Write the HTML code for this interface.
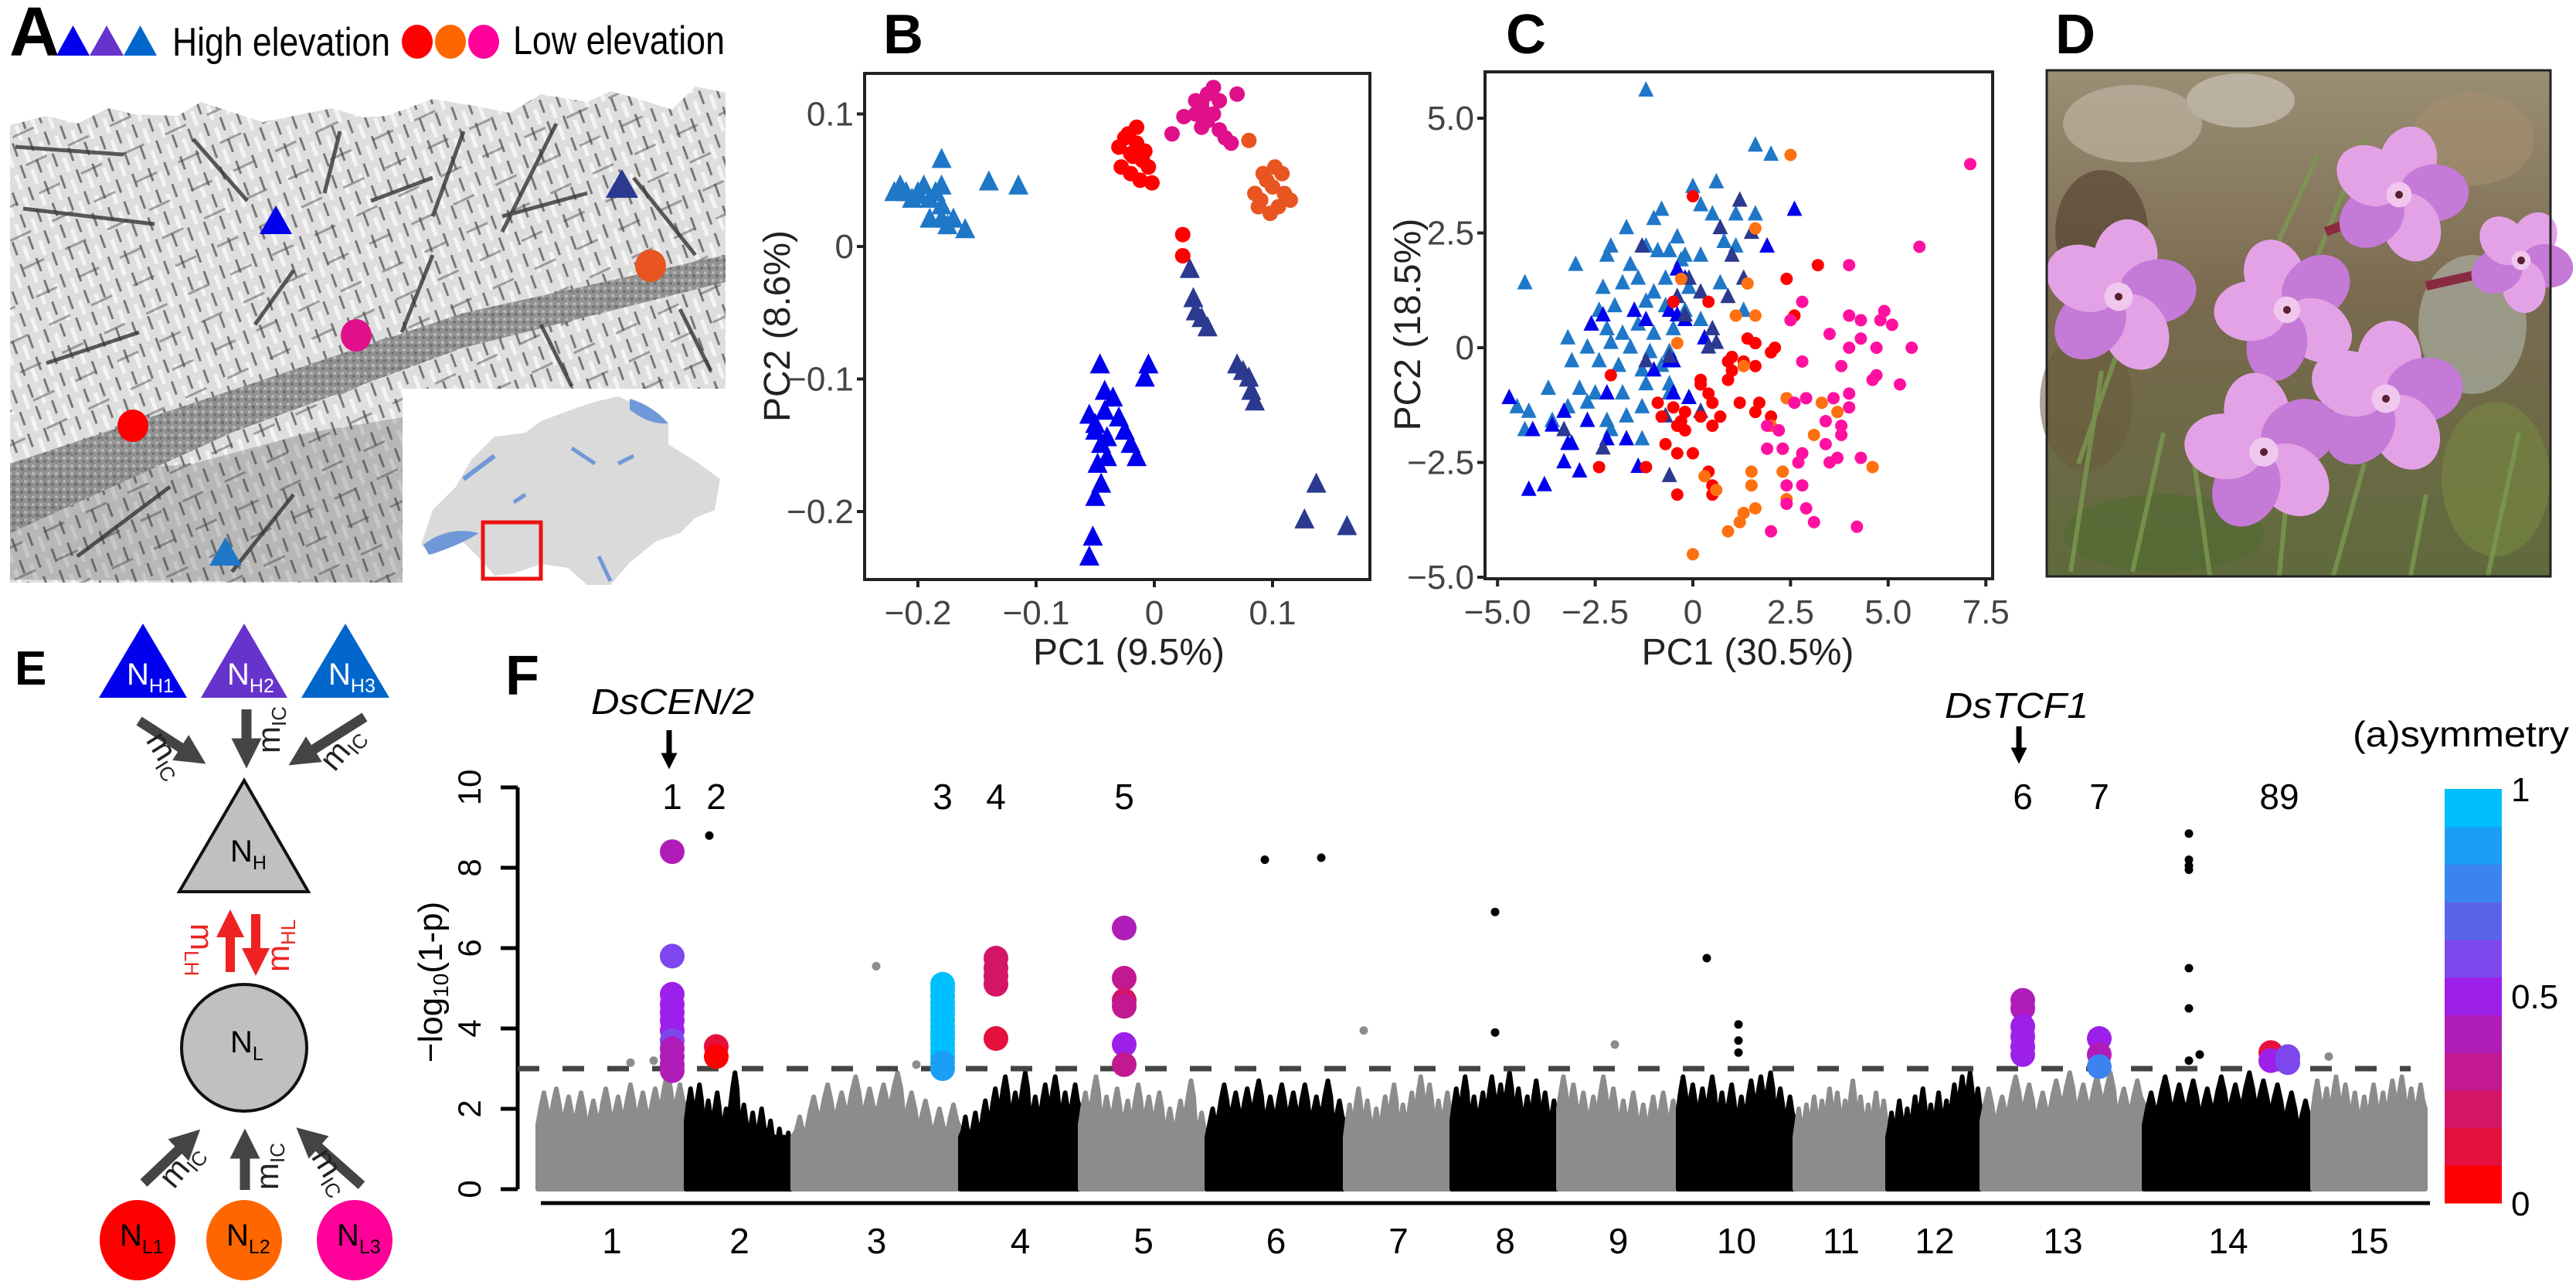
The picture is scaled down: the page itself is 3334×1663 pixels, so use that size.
<!DOCTYPE html>
<html><head><meta charset="utf-8"><style>
html,body{margin:0;padding:0;background:#fff}
svg{display:block}
text{font-family:"Liberation Sans Narrow","Liberation Sans",sans-serif}
</style></head><body>
<svg id="fig" width="3334" height="1663" viewBox="0 0 3334 1663" xmlns="http://www.w3.org/2000/svg">
<defs>
<pattern id="mt" width="30" height="22" patternUnits="userSpaceOnUse" patternTransform="rotate(70)">
<rect width="30" height="22" fill="#dedede"/><line x1="0" y1="4" x2="18" y2="4" stroke="#777" stroke-width="3"/><line x1="10" y1="14" x2="30" y2="14" stroke="#f4f4f4" stroke-width="5"/></pattern>
<pattern id="mt2" width="60" height="40" patternUnits="userSpaceOnUse" patternTransform="rotate(-25)">
<rect width="60" height="40" fill="none"/><line x1="0" y1="8" x2="30" y2="8" stroke="#444" stroke-width="3" opacity="0.45"/></pattern>
<pattern id="vl" width="10" height="10" patternUnits="userSpaceOnUse"><rect width="10" height="10" fill="#8a8a8a"/><circle cx="3" cy="3" r="2" fill="#b5b5b5"/><circle cx="8" cy="7" r="2" fill="#666"/></pattern>
<linearGradient id="photoBg" x1="0" y1="0" x2="0" y2="1"><stop offset="0" stop-color="#9a8e74"/><stop offset="0.45" stop-color="#7a6a50"/><stop offset="1" stop-color="#5f6a3c"/></linearGradient>
<marker id="ahG" markerWidth="3" markerHeight="3" refX="1.5" refY="1.5" orient="auto"><path d="M0,0 L3,1.5 L0,3 z" fill="#444"/></marker>
<marker id="ahR" markerWidth="3" markerHeight="3" refX="1.5" refY="1.5" orient="auto"><path d="M0,0 L3,1.5 L0,3 z" fill="#ee2222"/></marker>
<marker id="ahK" markerWidth="3" markerHeight="3" refX="1.5" refY="1.5" orient="auto"><path d="M0,0 L3,1.5 L0,3 z" fill="#000"/></marker>
</defs>

<!-- Panel A -->
<g>
<text x="12" y="72" font-size="90" font-weight="bold">A</text>
<g>
<polygon points="73,72 116,72 94.5,33" fill="#0000ee"/>
<polygon points="116,72 160,72 138,33" fill="#6633cc"/>
<polygon points="160,72 203,72 181.5,33" fill="#0066cc"/>
<text x="223" y="72" font-size="52" textLength="282" lengthAdjust="spacingAndGlyphs">High elevation</text>
</g>
<g>
<ellipse cx="540" cy="54" rx="20" ry="22" fill="#ff0000"/>
<ellipse cx="583" cy="54" rx="20" ry="22" fill="#ff6600"/>
<ellipse cx="626" cy="54" rx="20" ry="22" fill="#ff0099"/>
<text x="664" y="70" font-size="52" textLength="274" lengthAdjust="spacingAndGlyphs">Low elevation</text>
</g>
<g>
<polygon points="13,162 60,150 100,160 140,140 175,148 230,150 260,132 300,145 340,158 380,150 430,140 470,152 500,150 560,128 620,138 660,146 700,122 760,132 790,118 820,126 870,142 900,112 939,120 939,503 521,503 521,754 13,754" fill="url(#mt)"/>
<polygon points="13,162 60,150 100,160 140,140 175,148 230,150 260,132 300,145 340,158 380,150 430,140 470,152 500,150 560,128 620,138 660,146 700,122 760,132 790,118 820,126 870,142 900,112 939,120 939,503 521,503 521,754 13,754" fill="url(#mt2)"/>
<polygon points="13,620 13,750 521,754 521,540 400,560 250,600" fill="#444" opacity="0.25"/>
<polygon points="13,600 300,505 600,405 939,330 939,365 600,450 300,560 13,690" fill="url(#vl)" opacity="0.9"/>
<path d="M20,190 L160,200 M30,270 L200,290 M250,180 L320,260 M440,170 L420,250 M600,170 L560,280 M720,160 L650,300 M820,230 L900,330 M480,260 L560,230 M100,720 L220,630 M300,740 L380,640 M60,470 L180,430 M650,280 L760,250 M380,350 L330,420 M560,330 L520,430 M700,420 L740,500 M880,400 L920,480" stroke="#333" stroke-width="5" fill="none" opacity="0.8"/>
<polygon points="357,266 378,303 336,303" fill="#0000ee"/>
<polygon points="805,219 826,256 784,256" fill="#2b3990"/>
<polygon points="292,695 313,732 271,732" fill="#1f77c8"/>
<ellipse cx="842" cy="344" rx="20" ry="21" fill="#e85520"/>
<ellipse cx="461" cy="434" rx="20" ry="21" fill="#e0108a"/>
<ellipse cx="172" cy="551" rx="20" ry="21" fill="#ff0000"/>
</g>
<g>
<polygon points="545,705 560,660 590,630 610,595 640,565 680,560 700,545 740,530 770,520 800,513 835,528 865,548 865,575 905,600 932,620 925,660 900,670 880,690 850,700 815,728 790,757 760,757 735,735 700,730 665,742 640,745 620,722 598,700 560,718" fill="#dadada"/>
<path d="M548,705 Q580,680 620,690 Q590,708 555,718 z" fill="#6f98d8"/>
<path d="M815,516 Q845,525 865,548 Q840,550 815,530 z" fill="#6f98d8"/>
<path d="M600,620 L640,590" stroke="#6f98d8" stroke-width="6"/>
<path d="M740,580 L770,600 M800,600 L820,590 M775,720 L790,752 M665,650 L680,640" stroke="#6f98d8" stroke-width="5"/>
<rect x="625" y="676" width="75" height="73" fill="none" stroke="#ee1111" stroke-width="5"/>
</g>
</g>

<!-- Panel B -->
<g id="panelB">
<text x="1143" y="69" font-size="72" font-weight="bold">B</text>
<rect x="1119" y="95" width="654" height="655" fill="none" stroke="#222" stroke-width="4"/>
<text x="1461" y="860" font-size="48" text-anchor="middle" fill="#222">PC1 (9.5%)</text>
<text transform="translate(1022,422) rotate(-90)" font-size="48" text-anchor="middle" fill="#222">PC2 (8.6%)</text>
</g>

<!-- Panel C -->
<g id="panelC">
<text x="1949" y="69" font-size="72" font-weight="bold">C</text>
<rect x="1922" y="93" width="657" height="656" fill="none" stroke="#222" stroke-width="4"/>
<text x="2262" y="860" font-size="48" text-anchor="middle" fill="#222">PC1 (30.5%)</text>
<text transform="translate(1838,420) rotate(-90)" font-size="48" text-anchor="middle" fill="#222">PC2 (18.5%)</text>
</g>

<!-- Panel D -->
<g id="panelD">
<text x="2660" y="69" font-size="72" font-weight="bold">D</text>
<rect x="2649" y="91" width="652" height="655" fill="url(#photoBg)"/>
<g opacity="0.55">
<ellipse cx="2760" cy="160" rx="90" ry="50" fill="#c8c0b0"/>
<ellipse cx="2900" cy="130" rx="70" ry="35" fill="#d8d2c8"/>
<ellipse cx="3200" cy="180" rx="80" ry="60" fill="#a89070"/>
<ellipse cx="2720" cy="300" rx="60" ry="80" fill="#4a3828"/>
<ellipse cx="3200" cy="420" rx="70" ry="90" fill="#b8c0b8"/>
<ellipse cx="2700" cy="520" rx="60" ry="90" fill="#6a5a3a"/>
<ellipse cx="3230" cy="620" rx="70" ry="100" fill="#7a8a40"/>
<ellipse cx="2800" cy="690" rx="130" ry="50" fill="#4f6a30"/>
</g>
<path d="M2680,740 L2720,480 M2760,740 L2800,560 M2860,745 L2840,600 M2950,745 L2960,640 M3020,745 L3060,600 M3120,745 L3140,640 M3220,745 L3260,560 M2900,420 L3000,200 M2980,380 L3060,180 M2690,600 L2760,400" stroke="#7a9a50" stroke-width="6" opacity="0.8"/>
<path d="M3010,300 L3090,270 M3140,370 L3230,350" stroke="#8a2a40" stroke-width="12"/>
<g id="flowers"></g>
<rect x="2649" y="91" width="652" height="655" fill="none" stroke="#222" stroke-width="3"/>
</g>

<!-- Panel E -->
<g>
<text x="19" y="886" font-size="62" font-weight="bold">E</text>
<g><polygon points="128,903 242,903 185,807" fill="#0000ee"/><text x="164" y="886" font-size="40" fill="#fff">N<tspan font-size="25" dy="10">H1</tspan></text></g>
<g><polygon points="260,903 372,903 316,807" fill="#6633cc"/><text x="294" y="886" font-size="40" fill="#fff">N<tspan font-size="25" dy="10">H2</tspan></text></g>
<g><polygon points="390,903 504,903 447,807" fill="#0066cc"/><text x="425" y="886" font-size="40" fill="#fff">N<tspan font-size="25" dy="10">H3</tspan></text></g>
<g stroke="#444" stroke-width="13">
<line x1="180" y1="933" x2="250" y2="978" marker-end="url(#ahG)"/>
<line x1="319" y1="918" x2="319" y2="975" marker-end="url(#ahG)"/>
<line x1="472" y1="928" x2="390" y2="980" marker-end="url(#ahG)"/>
</g>
<text transform="translate(188,958) rotate(58)" font-size="42" fill="#222">m<tspan font-size="26" dy="8">IC</tspan></text>
<text transform="translate(362,975) rotate(-90)" font-size="42" fill="#222">m<tspan font-size="26" dy="8">IC</tspan></text>
<text transform="translate(433,1000) rotate(-50)" font-size="42" fill="#222">m<tspan font-size="26" dy="8">IC</tspan></text>
<g><polygon points="232,1154 399,1154 316,1010" fill="#c0c0c0" stroke="#111" stroke-width="4"/><text x="298" y="1115" font-size="40">N<tspan font-size="25" dy="10">H</tspan></text></g>
<g stroke="#ee2222" stroke-width="12">
<line x1="298" y1="1258" x2="298" y2="1195" marker-end="url(#ahR)"/>
<line x1="331" y1="1183" x2="331" y2="1245" marker-end="url(#ahR)"/>
</g>
<text transform="translate(247,1195) rotate(90)" font-size="42" fill="#ee2222">m<tspan font-size="26" dy="8">LH</tspan></text>
<text transform="translate(374,1258) rotate(-90)" font-size="42" fill="#ee2222">m<tspan font-size="26" dy="8">HL</tspan></text>
<g><ellipse cx="316" cy="1356" rx="81" ry="82" fill="#c0c0c0" stroke="#111" stroke-width="4"/><text x="298" y="1362" font-size="40">N<tspan font-size="25" dy="10">L</tspan></text></g>
<g stroke="#444" stroke-width="13">
<line x1="186" y1="1531" x2="245" y2="1475" marker-end="url(#ahG)"/>
<line x1="317" y1="1540" x2="317" y2="1480" marker-end="url(#ahG)"/>
<line x1="468" y1="1534" x2="398" y2="1472" marker-end="url(#ahG)"/>
</g>
<text transform="translate(225,1540) rotate(-50)" font-size="42" fill="#222">m<tspan font-size="26" dy="8">IC</tspan></text>
<text transform="translate(360,1540) rotate(-90)" font-size="42" fill="#222">m<tspan font-size="26" dy="8">IC</tspan></text>
<text transform="translate(402,1497) rotate(58)" font-size="42" fill="#222">m<tspan font-size="26" dy="8">IC</tspan></text>
<g><ellipse cx="178" cy="1605" rx="49" ry="52" fill="#ff0000"/><text x="155" y="1612" font-size="40">N<tspan font-size="25" dy="10">L1</tspan></text></g>
<g><ellipse cx="316" cy="1605" rx="49" ry="52" fill="#ff6600"/><text x="293" y="1612" font-size="40">N<tspan font-size="25" dy="10">L2</tspan></text></g>
<g><ellipse cx="459" cy="1605" rx="49" ry="52" fill="#ff0099"/><text x="436" y="1612" font-size="40">N<tspan font-size="25" dy="10">L3</tspan></text></g>
</g>

<!-- Panel F -->
<g id="panelF">
<text x="654" y="899" font-size="72" font-weight="bold">F</text>
<text x="765" y="924" font-size="46" font-style="italic" textLength="211" lengthAdjust="spacingAndGlyphs">DsCEN/2</text>
<line x1="866" y1="945" x2="866" y2="985" stroke="#000" stroke-width="7" marker-end="url(#ahK)"/>
<text x="2517" y="929" font-size="46" font-style="italic" textLength="186" lengthAdjust="spacingAndGlyphs">DsTCF1</text>
<line x1="2613" y1="940" x2="2613" y2="978" stroke="#000" stroke-width="7" marker-end="url(#ahK)"/>
<text transform="translate(572,1271) rotate(-90)" font-size="44" text-anchor="middle" font-family="Liberation Sans, sans-serif">−log<tspan font-size="28" dy="8">10</tspan><tspan dy="-8">(1-p)</tspan></text>
<line x1="670" y1="1019" x2="670" y2="1539" stroke="#000" stroke-width="5"/>
<line x1="700" y1="1557" x2="3145" y2="1557" stroke="#000" stroke-width="5"/>
<g id="manBulk"></g>
<line x1="670" y1="1383" x2="3120" y2="1383" stroke="#444" stroke-width="7" stroke-dasharray="28,30"/>
<g id="manPts"></g>
<g id="cbar"></g>
<text x="3185" y="966" font-size="46" text-anchor="middle" textLength="280" lengthAdjust="spacingAndGlyphs">(a)symmetry</text>
</g>
</svg>
<script>
// ---------- Panel B data ----------
const bSteelX=[-0.22,-0.215,-0.21,-0.205,-0.2,-0.195,-0.19,-0.185,-0.18,-0.18,-0.18,-0.18,-0.175,-0.17,-0.16,-0.14,-0.115,-0.19,-0.2];
const bSteelY=[0.04,0.045,0.04,0.035,0.04,0.045,0.035,0.04,0.045,0.065,0.03,0.02,0.015,0.02,0.012,0.048,0.045,0.02,0.038];
const bBlueX=[-0.046,-0.042,-0.055,-0.05,-0.05,-0.045,-0.04,-0.048,-0.035,-0.03,-0.025,-0.02,-0.015,-0.005,-0.008,-0.045,-0.05,-0.052,-0.055,-0.04,-0.042];
const bBlueY=[-0.09,-0.11,-0.128,-0.135,-0.14,-0.15,-0.16,-0.165,-0.115,-0.13,-0.14,-0.15,-0.16,-0.09,-0.1,-0.18,-0.19,-0.22,-0.235,-0.145,-0.125];
const bNavyX=[0.03,0.033,0.035,0.04,0.045,0.07,0.075,0.08,0.082,0.085,0.137,0.127,0.163];
const bNavyY=[-0.018,-0.04,-0.05,-0.055,-0.062,-0.09,-0.095,-0.1,-0.11,-0.118,-0.18,-0.207,-0.212];
const bRedX=[-0.03,-0.025,-0.02,-0.015,-0.01,-0.005,-0.02,-0.012,-0.028,-0.018,-0.008,-0.002,-0.022,-0.015,0.024,0.024];
const bRedY=[0.075,0.082,0.07,0.09,0.065,0.06,0.055,0.05,0.06,0.068,0.072,0.048,0.085,0.078,0.009,-0.007];
const bMagX=[0.015,0.025,0.035,0.04,0.045,0.05,0.055,0.045,0.04,0.035,0.055,0.06,0.065,0.07,0.05,0.04];
const bMagY=[0.085,0.098,0.11,0.105,0.115,0.1,0.11,0.095,0.09,0.1,0.088,0.082,0.078,0.115,0.12,0.108];
const bOrX=[0.08,0.085,0.09,0.095,0.1,0.105,0.11,0.088,0.098,0.108,0.115,0.092,0.102];
const bOrY=[0.08,0.04,0.035,0.05,0.045,0.03,0.04,0.03,0.025,0.055,0.035,0.055,0.06];
const bTicksX=[-0.2,-0.1,0,0.1];
const bTickLabelsX=['−0.2','−0.1','0','0.1'];
const bTicksY=[0.1,0,-0.1,-0.2];
const bTickLabelsY=['0.1','0','−0.1','−0.2'];
// ---------- Panel C data ----------
const cSteelX=[-1.2,1.6,2.0,0.0,0.6,-1.7,-1.0,-0.8,-0.4,0.2,0.5,1.1,1.6,-3.0,-2.2,-2.1,-1.2,-0.9,-0.6,-0.2,0.2,0.8,1.1,-4.3,-2.3,-1.8,-1.4,-0.7,-0.1,0.7,1.3,-2.4,-2.0,-1.5,-1.2,-0.7,-0.2,0.2,-2.6,-2.2,-1.8,-1.4,-1.0,-0.5,-3.2,-2.7,-2.1,-1.6,-1.1,-0.6,-3.1,-2.4,-1.9,-1.3,-0.8,-3.7,-2.5,-1.8,-1.2,-0.6,-4.5,-4.2,-3.6,-3.2,-2.7,-2.2,-1.7,-1.3,-4.3,-2.1,-1.3,-0.6,-1.6,-0.3,-2.9,-1.0];
const cSteelY=[5.6,4.4,4.2,3.5,3.6,2.6,2.8,3.0,2.4,3.1,2.9,2.9,2.9,1.8,2.0,2.2,2.2,2.1,2.1,2.0,2.0,2.3,2.2,1.4,1.3,1.4,1.5,1.5,1.3,1.4,0.8,0.8,0.9,0.8,1.0,0.9,0.8,0.6,0.5,0.4,0.3,0.5,0.3,0.4,0.2,0.0,0.1,0.0,-0.1,-0.1,-0.3,-0.3,-0.4,-0.5,-0.4,-0.9,-1.0,-1.0,-0.8,-0.8,-1.3,-1.4,-1.6,-1.3,-1.2,-1.6,-1.5,-1.3,-1.8,-1.8,-2.0,-1.0,1.8,1.9,-0.9,1.2];
const cBlueX=[2.6,1.9,-0.4,-0.2,-2.6,-2.3,-1.5,-1.2,-0.6,-0.4,-0.2,0.3,-1.0,-0.5,-0.5,-0.1,-2.2,-3.6,-3.3,-3.1,-2.7,-2.2,-1.7,-4.7,-3.2,-3.3,-3.8,-4.2,-2.9,-1.4,-4.1,-0.6];
const cBlueY=[3.0,2.2,1.7,1.5,0.5,0.7,0.8,0.6,0.8,0.7,0.6,0.2,-0.5,-0.3,-1.0,-1.1,-1.0,-1.7,-1.4,-2.1,-1.6,-2.0,-2.0,-1.1,-2.1,-2.5,-3.0,-3.1,-2.7,-2.6,-1.8,-0.3];
const cNavyX=[1.2,0.7,1.5,-1.3,1.0,-0.1,1.3,0.9,-0.4,0.2,-0.2,0.5,0.6,0.4,-1.2,-0.6,-0.7,-3.3,-2.3,-0.6,0.2];
const cNavyY=[3.2,2.6,2.5,2.2,2.0,1.5,1.5,1.1,1.1,1.2,0.7,0.4,0.1,0.0,-0.3,-0.2,-1.5,-1.8,-2.2,-2.8,-1.4];
const cRedX=[0.0,2.4,3.2,2.6,-0.5,0.4,1.4,1.6,2.1,2.0,1.0,0.9,1.3,1.6,1.0,0.9,0.2,0.2,0.4,-2.1,-0.9,-0.5,-0.2,0.5,1.2,1.7,1.6,2.0,-0.8,-0.3,0.2,0.7,-0.2,-0.4,-0.7,0.5,-0.4,0.0,-2.4,-1.2,0.4,0.5,0.5,-0.4];
const cRedY=[3.3,1.5,1.8,0.7,1.0,1.0,0.2,0.1,0.0,-0.1,-0.2,-0.3,-0.3,-0.4,-0.5,-0.7,-0.7,-0.8,-1.0,-0.6,-1.2,-1.3,-1.4,-1.2,-1.2,-1.2,-1.4,-1.5,-1.5,-1.6,-1.5,-1.5,-1.8,-1.7,-2.1,-1.7,-2.3,-2.3,-2.6,-2.6,-2.7,-3.0,-3.2,-3.2];
const cOrX=[2.5,1.6,1.4,-0.3,1.1,1.6,-0.4,1.3,2.4,2.0,2.3,4.6,3.3,3.7,3.1,0.3,0.6,1.5,1.5,1.6,2.4,1.3,1.2,0.9,0.0,2.3];
const cOrY=[4.2,2.6,1.4,1.5,0.7,0.7,0.1,-0.4,-1.1,-1.7,-2.2,-2.6,-1.2,-1.4,-1.9,-2.8,-3.1,-2.7,-3.0,-3.5,-3.3,-3.6,-3.8,-4.0,-4.5,-2.7];
const cMagX=[7.1,5.8,4.0,2.8,2.5,4.0,4.3,4.9,4.8,5.1,3.5,4.3,4.7,4.0,5.6,2.8,3.8,4.7,4.6,5.3,2.9,3.6,4.0,4.0,2.6,1.9,2.2,3.4,3.8,3.8,3.4,1.9,2.3,2.7,3.5,3.7,4.3,2.8,2.4,2.4,2.9,3.1,4.2,2.0,2.8];
const cMagY=[4.0,2.2,1.8,1.0,0.6,0.7,0.6,0.8,0.6,0.5,0.3,0.2,0.0,0.0,0.0,-0.3,-0.4,-0.6,-0.7,-0.8,-1.1,-1.1,-1.0,-1.3,-1.2,-1.7,-1.8,-1.6,-1.7,-1.9,-2.1,-2.2,-2.2,-2.5,-2.5,-2.4,-2.4,-3.0,-3.0,-3.4,-3.5,-3.8,-3.9,-4.0,-2.3];
const cTicksX=[-5,-2.5,0,2.5,5,7.5];
const cTickLabelsX=['−5.0','−2.5','0','2.5','5.0','7.5'];
const cTicksY=[5,2.5,0,-2.5,-5];
const cTickLabelsY=['5.0','2.5','0','−2.5','−5.0'];
// ---------- Panel F data ----------
const chromNames=['1','2','3','4','5','6','7','8','9','10','11','12','13','14','15'];
const chromLengths=[192,138,217,155,164,179,138,138,155,151,120,122,210,218,146];
const chromEnvelope=[
[2.4,2.5,2.3,2.4,2.2,2.5,2.3,2.6,2.4,2.5,2.9,2.6],
[2.5,2.6,2.2,2.4,2.0,2.9,2.1,1.9,2.0,1.7,1.5,1.4],
[1.8,2.3,2.6,2.4,2.8,2.5,2.6,2.9,2.4,2.2,2.0,2.1],
[1.8,1.9,2.2,2.5,2.8,2.4,2.9,2.3,2.6,2.8,2.4,2.6],
[2.4,2.8,2.3,2.5,2.2,2.6,2.3,2.4,2.0,2.2,2.7,1.9],
[2.0,2.6,2.4,2.5,2.7,2.3,2.6,2.4,2.6,2.3,2.7,2.2],
[2.1,2.5,2.2,2.0,2.3,2.6,2.1,2.4,2.8,2.6,2.2,2.4],
[2.5,2.8,2.3,2.4,2.8,2.6,2.9,2.5,2.3,2.7,2.4,2.2],
[2.8,2.6,2.4,2.3,2.8,2.5,2.2,2.4,2.1,2.3,2.4,2.2],
[2.8,2.6,2.5,2.8,2.4,2.6,2.3,2.7,2.8,2.9,2.5,2.3],
[2.0,2.1,2.3,2.2,2.5,2.4,2.2,2.7,2.3,2.1,2.4,2.2],
[1.9,2.2,2.0,2.3,2.5,2.1,2.4,2.2,2.6,2.8,2.9,2.5],
[2.5,2.3,2.8,2.6,2.4,2.7,2.9,2.6,2.8,2.9,2.5,2.7],
[2.4,2.8,2.6,2.7,2.5,2.8,2.6,2.9,2.7,2.6,2.4,2.2],
[2.7,2.5,2.8,2.6,2.4,2.3,2.6,2.4,2.7,2.8,2.5,2.6]];
const peakChrom=[1,1,1,1,1,1,1,1,1,1,1,1, 2,2, 3,3,3,3,3,3,3,3,3,3,3,3,3,3,3, 4,4,4,4,4, 5,5,5,5,5,5, 13,13,13,13,13,13, 13,13,13, 14,14, 14,14];
const peakPos=[174,174,174,174,174,174,174,174,174,174,174,174, 39,39, 194,194,194,194,194,194,194,194,194,194,194,194,194,194,194, 46,46,46,46,46, 57,57,57,57,57,57, 53,53,53,53,53,53, 152,152,152, 164,164, 186,186];
const peakVal=[8.4,5.8,4.85,4.6,4.4,4.2,3.95,3.7,3.5,3.3,3.1,2.95, 3.55,3.3, 5.1,4.95,4.8,4.65,4.5,4.35,4.2,4.05,3.9,3.75,3.6,3.45,3.3,3.15,3.0, 5.75,5.5,5.3,5.1,3.75, 6.5,5.25,4.7,4.55,3.6,3.1, 4.7,4.5,4.05,3.8,3.55,3.35, 3.75,3.35,3.05, 3.4,3.2, 3.3,3.15];
const peakAsym=[0.4,0.6,0.45,0.5,0.5,0.45,0.45,0.55,0.35,0.4,0.35,0.4, 0.1,0.0, 1,1,1,1,1,1,1,1,1,1,1,1,1,0.9,0.9, 0.15,0.15,0.15,0.15,0.1, 0.4,0.3,0.2,0.25,0.5,0.3, 0.35,0.35,0.5,0.5,0.5,0.5, 0.5,0.35,0.8, 0.1,0.5, 0.6,0.6];
const outChrom=[2,3,6,6,7,8,8,9,10,10,10,10,14,14,14,14,14,14,14,14,15,1,1,3];
const outPos=[30,108,75,148,24,56,56,73,37,78,78,78,58,58,58,58,58,58,58,72,21,120,150,160];
const outVal=[8.8,5.55,8.2,8.25,3.95,6.9,3.9,3.6,5.75,4.1,3.7,3.4,8.85,8.2,8.05,7.95,5.5,4.5,3.2,3.35,3.3,3.15,3.2,3.1];
const fTicksY=[0,2,4,6,8,10];
const peakLabels=['1','2','3','4','5','6','7','89'];
const peakLabelChrom=[1,2,3,4,5,13,13,14];
const peakLabelPos=[174,39,194,46,57,53,152,175];
const cbarTicks=[1,0.5,0];
const cbarPalette=['#ff0000','#e6103c','#d41466','#c21890','#b01cb8','#9d20ea','#7c48ee','#5a64ea','#3b84f0','#1a9ff5','#00bfff'];

const NS='http://www.w3.org/2000/svg';
function mk(tag,parent,attrs){const e=document.createElementNS(NS,tag);for(const k in attrs)e.setAttribute(k,attrs[k]);parent.appendChild(e);return e;}

const xB=v=>1494+v*1530, yB=v=>319-v*1715;
const xC=v=>2191+v*50.56, yC=v=>450-v*59.4;
const totalLen=chromLengths.reduce((a,b)=>a+b,0);
const chromStart=[];let acc=0;chromLengths.forEach(l=>{chromStart.push(acc);acc+=l;});
const xF=(chr,pos)=>696+(chromStart[chr-1]+pos)*(2443/totalLen);
const yF=v=>1539-v*52;

function tri(parent,x,y,s,fill){return mk('polygon',parent,{points:`${x},${y-s*0.62} ${x+s/2},${y+s*0.38} ${x-s/2},${y+s*0.38}`,fill:fill});}

function axesPCA(g,xs,ys,ticksX,labX,ticksY,labY,left,bottom){
  ticksX.forEach((t,i)=>{
    const l=mk('line',g,{x1:xs(t),x2:xs(t),y1:bottom,y2:bottom+10,stroke:'#222','stroke-width':4});
    
    
    const tx=mk('text',g,{x:xs(t),y:bottom+58,'font-size':44,'text-anchor':'middle',fill:'#444'});tx.textContent=labX[i];
    
    
  });
  ticksY.forEach((t,i)=>{
    const l=mk('line',g,{x1:left-10,x2:left,y1:ys(t),y2:ys(t),stroke:'#222','stroke-width':4});
    
    
    const tx=mk('text',g,{x:left-14,y:ys(t)+15,'font-size':44,'text-anchor':'end',fill:'#444'});tx.textContent=labY[i];
    
    
  });
}
const gB=document.getElementById('panelB');
axesPCA(gB,xB,yB,bTicksX,bTickLabelsX,bTicksY,bTickLabelsY,1119,750);
function triSeries(g,xs,ys,X,Y,s,fill,name){X.forEach((v,i)=>{const p=tri(g,xs(v),ys(Y[i]),s,fill);
  
  });}
function cirSeries(g,xs,ys,X,Y,r,fill,name){X.forEach((v,i)=>{const c=mk('circle',g,{cx:xs(v),cy:ys(Y[i]),r:r,fill:fill});
  
  });}
triSeries(gB,xB,yB,bSteelX,bSteelY,26,'#1f77c8','point-high-3');
triSeries(gB,xB,yB,bBlueX,bBlueY,26,'#0000ee','point-high-1');
triSeries(gB,xB,yB,bNavyX,bNavyY,26,'#2b3990','point-high-2');
cirSeries(gB,xB,yB,bRedX,bRedY,10,'#ff0000','point-low-1');
cirSeries(gB,xB,yB,bMagX,bMagY,10,'#e0108a','point-low-3');
cirSeries(gB,xB,yB,bOrX,bOrY,10,'#e85520','point-low-2');

const gC=document.getElementById('panelC');
axesPCA(gC,xC,yC,cTicksX,cTickLabelsX,cTicksY,cTickLabelsY,1922,749);
triSeries(gC,xC,yC,cSteelX,cSteelY,20,'#1f77c8','point-high-3');
triSeries(gC,xC,yC,cBlueX,cBlueY,20,'#0000ee','point-high-1');
triSeries(gC,xC,yC,cNavyX,cNavyY,20,'#2b3990','point-high-2');
cirSeries(gC,xC,yC,cRedX,cRedY,8,'#ff0000','point-low-1');
cirSeries(gC,xC,yC,cOrX,cOrY,8,'#ff7010','point-low-2');
cirSeries(gC,xC,yC,cMagX,cMagY,8,'#ff10a0','point-low-3');

// flowers (photo illustration)
const fl=document.getElementById('flowers');
[[2742,384,92,10],[2960,401,86,-20],[3105,252,82,15],[3263,337,62,30],[3088,516,92,5],[2930,585,94,-10]].forEach(f=>{
  const g=mk('g',fl,{transform:`translate(${f[0]},${f[1]}) rotate(${f[3]})`});
  
  
  for(let k=0;k<5;k++){mk('ellipse',g,{cx:0,cy:-f[2]*0.55,rx:f[2]*0.45,ry:f[2]*0.55,fill:k%2?'#c47ad6':'#e4a2e6',transform:`rotate(${k*72})`});}
  mk('circle',g,{cx:0,cy:0,r:f[2]*0.2,fill:'#f0c8ee'});
  mk('circle',g,{cx:0,cy:0,r:5,fill:'#5a2030'});
});

// Manhattan
const gBulk=document.getElementById('manBulk'), gPts=document.getElementById('manPts');
chromLengths.forEach((L,ci)=>{
  const chr=ci+1, env=chromEnvelope[ci], col=(chr%2)?'#8c8c8c':'#000';
  const x0=xF(chr,0), x1=xF(chr,L);
  let pts=`${x0},${yF(0)} `;
  env.forEach((v,j)=>{const xa=xF(chr,L*j/env.length), xb=xF(chr,L*(j+0.5)/env.length), xc=xF(chr,L*(j+0.25)/env.length), xd=xF(chr,L*(j+0.75)/env.length);
    pts+=`${xa},${yF(Math.max(1.3,v-0.8))} ${xc},${yF(v-0.35)} ${xb},${yF(v)} ${xd},${yF(v-0.4)} `;});
  pts+=`${x1},${yF(env[env.length-1]-0.6)} ${x1},${yF(0)}`;
  const p=mk('polygon',gBulk,{points:pts,fill:col,stroke:col,'stroke-width':6,'stroke-linejoin':'round'});
  
  
  const t=mk('text',gPts,{x:(x0+x1)/2,y:1622,'font-size':46,'text-anchor':'middle'});t.textContent=chromNames[ci];
  
  
});
outChrom.forEach((c,i)=>{const e=mk('circle',gPts,{cx:xF(c,outPos[i]),cy:yF(outVal[i]),r:5.5,fill:(c%2)?'#8c8c8c':'#000'});
  
  });
peakChrom.forEach((c,i)=>{const e=mk('circle',gPts,{cx:xF(c,peakPos[i]),cy:yF(peakVal[i]),r:16,fill:cbarPalette[Math.round(peakAsym[i]*10)]});
  
  });
peakLabels.forEach((s,i)=>{const t=mk('text',gPts,{x:xF(peakLabelChrom[i],peakLabelPos[i]),y:1047,'font-size':46,'text-anchor':'middle'});t.textContent=s;
  
  });
fTicksY.forEach(v=>{const l=mk('line',gPts,{x1:648,x2:670,y1:yF(v),y2:yF(v),stroke:'#000','stroke-width':5});
  
  
  const t=mk('text',gPts,{transform:`translate(622,${yF(v)}) rotate(-90)`,'font-size':42,'text-anchor':'middle','font-family':'Liberation Sans, sans-serif'});t.textContent=v;
  
  });
const cb=document.getElementById('cbar');
const cbTop=1021, cbBot=1557, bh=(cbBot-cbTop)/cbarPalette.length;
cbarPalette.forEach((c,i)=>{const r=mk('rect',cb,{x:3164,y:cbBot-(i+1)*bh,width:74,height:bh+0.5,fill:c});
  
  });
cbarTicks.forEach(v=>{const t=mk('text',cb,{x:3250,y:cbBot-v*(cbBot-cbTop)+16,'font-size':44});t.textContent=v;
  
  });
</script>
</body></html>
